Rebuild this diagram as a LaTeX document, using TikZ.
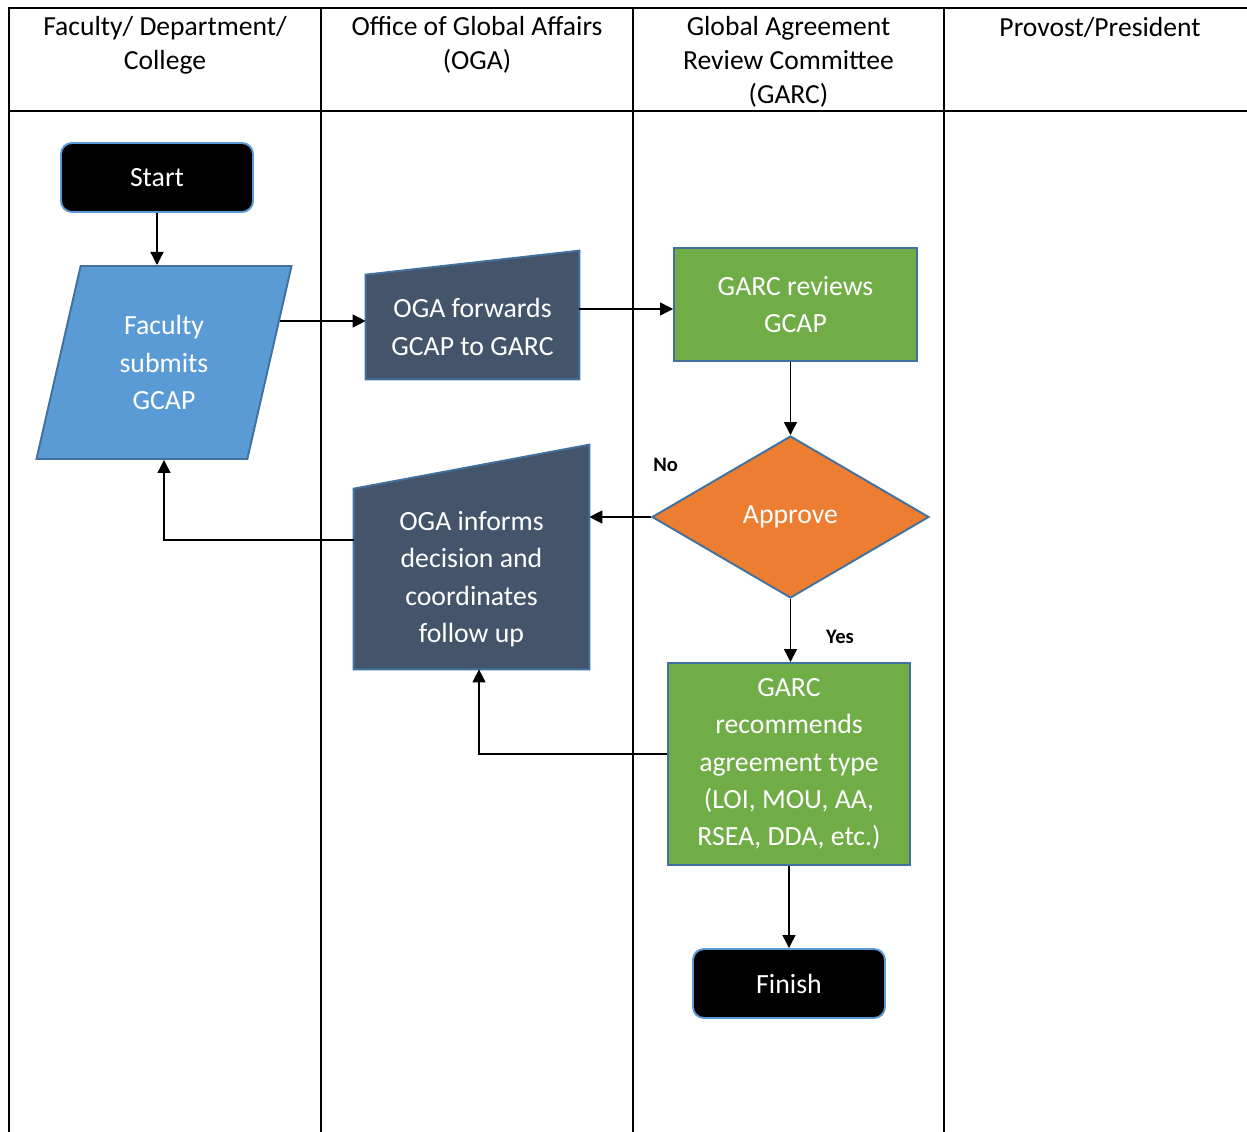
\documentclass[tikz,border=0pt]{standalone}
\usepackage{fontspec}
\setmainfont{Carlito}
\usetikzlibrary{arrows.meta, shapes.geometric, calc, backgrounds}
\definecolor{TermEdge}{HTML}{5B9BD5}
\definecolor{FacBlue}{HTML}{5B9BD5}
\definecolor{ShapeEdge}{HTML}{41719C}
\definecolor{OGASlate}{HTML}{44546A}
\definecolor{GARCGreen}{HTML}{70AD47}
\definecolor{DecOrange}{HTML}{ED7D31}
\tikzset{
    lanehead/.style={align=center, inner sep=0pt, font=\fontsize{15.7}{19.3}\selectfont},
    laneline/.style={line width=1.1pt},
    termbox/.style={rectangle, rounded corners=0.22cm, draw=TermEdge, fill=black, text=white, minimum width=3.84cm, minimum height=1.38cm, font=\fontsize{15.8}{21.3}\selectfont, line width=1.1pt},
    inputbox/.style={trapezium, trapezium left angle=76, trapezium right angle=104, trapezium stretches=true, draw=ShapeEdge, fill=FacBlue, text=white, align=center, inner sep=0pt, font=\fontsize{15.8}{21.3}\selectfont, line width=1.1pt},
    manualbox/.style={rectangle, text=white, align=center, inner sep=0pt, font=\fontsize{15.8}{21.3}\selectfont},
    manualfill/.style={fill=OGASlate, draw=ShapeEdge, line width=1.1pt},
    procbox/.style={rectangle, draw=ShapeEdge, fill=GARCGreen, text=white, align=center, inner sep=0pt, font=\fontsize{15.8}{21.3}\selectfont, line width=1.1pt},
    decbox/.style={diamond, draw=ShapeEdge, fill=DecOrange, text=white, inner sep=0pt, font=\fontsize{15.8}{21.3}\selectfont, line width=1.1pt},
    flowarrow/.style={-{Triangle[length=2.6mm, width=2.6mm]}, line width=0.75pt},
    choicetext/.style={font=\bfseries\fontsize{11.7}{13}\selectfont}
}

\begin{document}
\begin{tikzpicture}
    \useasboundingbox (0,0) rectangle (24.94,-22.64);

    % Swimlanes
    \draw[laneline] (0.18,-22.64) -- (0.18,-0.16) -- (24.94,-0.16);
    \draw[laneline] (0.18,-2.22) -- (24.94,-2.22);
    \draw[laneline] (6.42,-0.16) -- (6.42,-22.64);
    \draw[laneline] (12.66,-0.16) -- (12.66,-22.64);
    \draw[laneline] (18.88,-0.16) -- (18.88,-22.64);
    \node[lanehead] (hfac) at (3.3,-0.9) {Faculty/ Department/\\College};
    \node[lanehead] (hoga) at (9.54,-0.9) {Office of Global Affairs\\(OGA)};
    \node[lanehead] (hgarc) at (15.77,-1.24) {Global Agreement\\Review Committee\\(GARC)};
    \node[lanehead] (hprov) at (22.0,-0.56) {Provost/President};

    % Nodes
    \node[termbox] (start) at (3.14,-3.55) {Start};
    \node[inputbox, minimum width=5.12cm, minimum height=3.86cm] (fac) at (3.28,-7.25) {Faculty\\submits\\GCAP};
    \node[manualbox, minimum width=4.26cm, minimum height=2.08cm] (fwd) at (9.45,-6.54) {OGA forwards\\GCAP to GARC};
    \node[procbox, minimum width=4.86cm, minimum height=2.26cm] (rev) at (15.91,-6.09) {GARC reviews\\GCAP};
    \node[decbox, minimum width=5.54cm, minimum height=3.24cm] (appr) at (15.81,-10.34) {Approve};
    \node[manualbox, minimum width=4.7cm, minimum height=3.6cm] (inform) at (9.43,-11.58) {OGA informs\\decision and\\coordinates\\follow up};
    \node[procbox, minimum width=4.84cm, minimum height=4.04cm] (rec) at (15.78,-15.28) {GARC\\recommends\\agreement type\\(LOI, MOU, AA,\\RSEA, DDA, etc.)};
    \node[termbox] (fin) at (15.78,-19.67) {Finish};
    \node[choicetext, fill=white, anchor=west, inner xsep=0.38cm, inner ysep=0.3cm] (no) at (12.68,-9.3) {No};
    \node[choicetext] (yes) at (16.8,-12.74) {Yes};

    \begin{scope}[on background layer]
        % Manual input shapes
        \filldraw[manualfill] (fwd.south west) -- (fwd.south east) -- ($(fwd.north east)+(0,0.48)$) -- (fwd.north west) -- cycle;
        \filldraw[manualfill] (inform.south west) -- (inform.south east) -- ($(inform.north east)+(0,0.88)$) -- (inform.north west) -- cycle;

        % Paths
        \draw[flowarrow] (start.south) -- (start.south |- fac.north);
        \draw[flowarrow] ($(fac.center |- fwd.west)+(0,0.12)$) -- ($(fwd.west)+(0,0.12)$);
        \draw[flowarrow] ($(fwd.east |- rev.west)+(0,-0.09)$) -- ($(rev.west)+(0,-0.09)$);
        \draw[flowarrow] (rev.south -| appr.north) -- (appr.north);
        \draw[flowarrow] (appr.west) -- (appr.west -| inform.east);
        \draw[flowarrow] (appr.south) -- (appr.south |- rec.north);
        \draw[flowarrow] ($(inform.west)+(0,0.78)$) -| (fac.south);
        \draw[flowarrow] ($(rec.west)+(0,0.2)$) -| ($(inform.south)+(0.15,0)$);
        \draw[flowarrow] (rec.south -| fin.north) -- (fin.north);
    \end{scope}
\end{tikzpicture}
\end{document}
